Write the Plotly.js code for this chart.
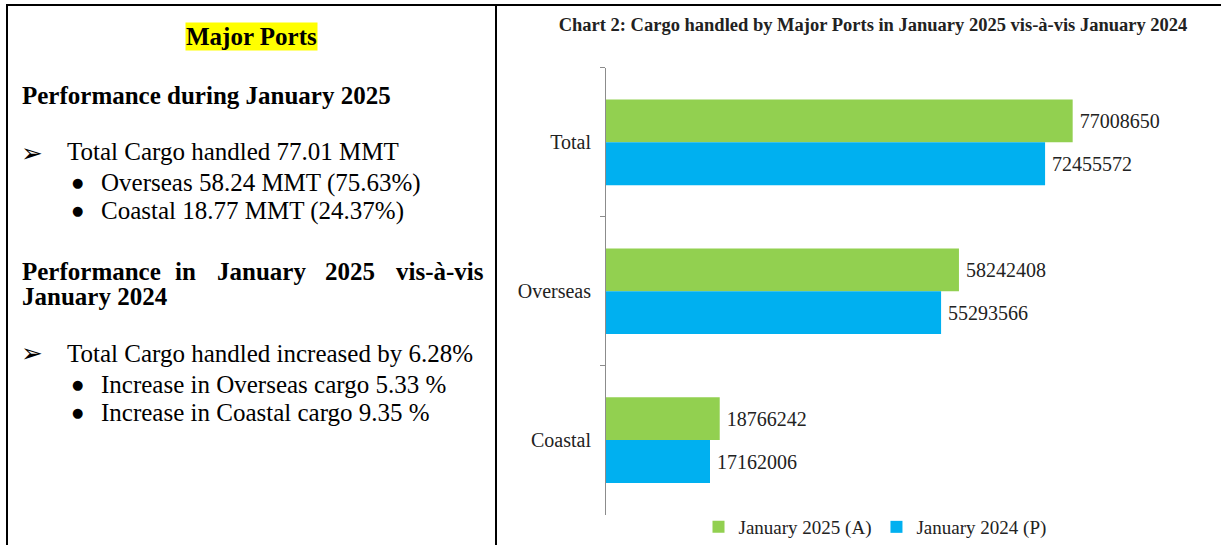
<!DOCTYPE html>
<html>
<head>
<meta charset="utf-8">
<script src="https://cdn.plot.ly/plotly-3.0.1.min.js"></script>
<style>html,body{margin:0;padding:0;background:#fff;}#chart{width:1221px;height:546px;}</style>
</head>
<body>
<div id="chart"></div>
<script>
// ---- data ----
const categories = ["Total", "Overseas", "Coastal"];
const jan2025 = [77008650, 58242408, 18766242];
const jan2024 = [72455572, 55293566, 17162006];
const seriesNames = ["January 2025 (A)", "January 2024 (P)"];
const chartTitle = "Chart 2: Cargo handled by Major Ports in January 2025 vis-à-vis January 2024";

// left panel text
const panelHeading = "Major Ports";
const section1Title = "Performance during January 2025";
const section1Main = "Total Cargo handled 77.01 MMT";
const section1Bullets = ["Overseas 58.24 MMT (75.63%)", "Coastal 18.77 MMT (24.37%)"];
const section2TitleWords = ["Performance", "in", "January", "2025", "vis-à-vis"];
const section2TitleLine2 = "January 2024";
const section2Main = "Total Cargo handled increased by 6.28%";
const section2Bullets = ["Increase in Overseas cargo 5.33 %", "Increase in Coastal cargo 9.35 %"];

// ---- layout helpers ----
const W = 1221, H = 546;
const px = x => x / W;
const py = y => 1 - y / H;
const SERIF = "Liberation Serif, Times New Roman, serif";
const green = "#92D050", blue = "#00B0F0";

function barTrace(name, values, color) {
  return {type: "bar", orientation: "h", name: name, y: categories, x: values,
    marker: {color: color}, text: values.map(v => "\u2009" + v), textposition: "outside",
    textfont: {family: SERIF, size: 20, color: "#222"}, cliponaxis: false, constraintext: "none",
    hoverinfo: "x+name"};
}
const traces = [barTrace(seriesNames[0], jan2025, green), barTrace(seriesNames[1], jan2024, blue)];

const ann = [];
function txt(x, y, text, size, opts) {
  ann.push(Object.assign({xref: "paper", yref: "paper", x: px(x), y: py(y), text: text,
    showarrow: false, xanchor: "left", yanchor: "middle",
    font: {family: SERIF, size: size, color: "#000"}}, opts || {}));
}
const arrowFont = {family: "DejaVu Sans", size: 26, color: "#000"};
const bulletFont = {family: "DejaVu Sans", size: 13, color: "#000"};
// heading with highlight
txt(251.5, 37, "<b>" + panelHeading + "</b>", 25, {xanchor: "center", bgcolor: "#FFFF00", borderpad: 0});
txt(20, 96, "<b>" + section1Title + "</b>", 25);
txt(19, 153, "➢", 26, {font: arrowFont});
txt(65, 152, section1Main, 25);
txt(70, 183, "●", 13, {font: bulletFont});
txt(99, 183, section1Bullets[0], 25);
txt(70, 211, "●", 13, {font: bulletFont});
txt(99, 211, section1Bullets[1], 25);
// justified title line
const wordX = [20, 173, 215, 323, 394];
section2TitleWords.forEach((w, i) => txt(wordX[i], 272, "<b>" + w + "</b>", 25));
txt(20, 297, "<b>" + section2TitleLine2 + "</b>", 25);
txt(19, 354, "➢", 26, {font: arrowFont});
txt(65, 354, section2Main, 25);
txt(70, 385, "●", 13, {font: bulletFont});
txt(99, 385, section2Bullets[0], 25);
txt(70, 413, "●", 13, {font: bulletFont});
txt(99, 413, section2Bullets[1], 25);

const shapes = [
  {type: "line", xref: "paper", yref: "paper", x0: px(6), x1: 1, y0: py(5), y1: py(5), line: {color: "#000", width: 2}},
  {type: "line", xref: "paper", yref: "paper", x0: px(7), x1: px(7), y0: py(5), y1: 0, line: {color: "#000", width: 2}},
  {type: "line", xref: "paper", yref: "paper", x0: px(496), x1: px(496), y0: py(5), y1: 0, line: {color: "#000", width: 2}}
];

const layout = {
  width: W, height: H,
  margin: {l: 0, r: 0, t: 0, b: 0},
  paper_bgcolor: "#fff", plot_bgcolor: "rgba(0,0,0,0)",
  barmode: "group", bargap: 0.425, bargroupgap: 0,
  title: {text: "<b>" + chartTitle + "</b>", x: px(873), xanchor: "center", y: py(25), yanchor: "middle",
          font: {family: SERIF, size: 18.5, color: "#222"}},
  xaxis: {domain: [px(606), px(1212)], range: [0, 100000000], visible: false, fixedrange: true},
  yaxis: {domain: [1 - 515.5 / H, 1 - 68 / H], autorange: "reversed", type: "category",
          showline: true, linecolor: "#8c8c8c", linewidth: 1,
          ticks: "outside", tickson: "boundaries", ticklen: 5, tickcolor: "#8c8c8c",
          showgrid: false, zeroline: false, ticklabelstandoff: 10,
          tickfont: {family: SERIF, size: 20, color: "#222"}, fixedrange: true},
  showlegend: true,
  legend: {orientation: "h", x: px(875), xanchor: "center", y: py(528), yanchor: "middle",
           font: {family: SERIF, size: 19, color: "#222"}, bgcolor: "rgba(0,0,0,0)"},
  annotations: ann,
  shapes: shapes
};

Plotly.newPlot("chart", traces, layout, {displayModeBar: false, staticPlot: true});
</script>
</body>
</html>
